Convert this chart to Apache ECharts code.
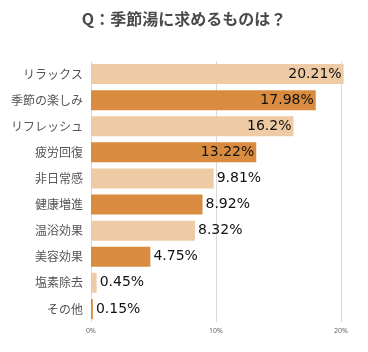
<!DOCTYPE html>
<html>
<head>
<meta charset="utf-8">
<script src="https://cdn.jsdelivr.net/npm/echarts@6/dist/echarts.min.js"></script>
<style>
html,body{margin:0;padding:0;background:#fff;}
#chart{width:368px;height:352px;}
</style>
</head>
<body>
<div id="chart"></div>
<script>
var categories = ['リラックス','季節の楽しみ','リフレッシュ','疲労回復','非日常感','健康増進','温浴効果','美容効果','塩素除去','その他'];
var values = [20.21, 17.98, 16.2, 13.22, 9.81, 8.92, 8.32, 4.75, 0.45, 0.15];
var xTicks = [0, 10, 20];
var lightColor = '#EECBA4';
var darkColor = '#D98C40';

var chart = echarts.init(document.getElementById('chart'));

// 大きい棒はラベルを内側、小さい棒は外側
var barData = [];
for (var i = 0; i < values.length; i++) {
	var inside = values[i] >= 13;
	barData.push({
		value: values[i],
		itemStyle: { color: i % 2 == 0 ? lightColor : darkColor },
		label: { position: inside ? 'insideRight' : 'right', distance: inside ? 2 : 3 }
	});
}

var option = {
	animation: false,
	title: {
		text: 'Q：季節湯に求めるものは？',
		left: 179,
		textAlign: 'center',
		top: 6,
		textStyle: {
			fontFamily: 'Noto Sans CJK JP',
			fontSize: 16,
			fontWeight: 'bold',
			color: '#4a4a4a'
		}
	},
	grid: {
		left: 91,
		right: 27,
		top: 61,
		height: 261
	},
	xAxis: {
		type: 'value',
		min: xTicks[0],
		max: xTicks[xTicks.length - 1],
		interval: 10,
		axisLine: { show: false },
		axisTick: { show: false },
		splitLine: { lineStyle: { color: '#d9d9d9' } },
		axisLabel: {
			fontSize: 7,
			color: '#666',
			margin: 5,
			fontFamily: 'Noto Sans',
			formatter: '{value}%'
		}
	},
	yAxis: {
		type: 'category',
		inverse: true,
		data: categories,
		axisLine: { show: false },
		axisTick: { show: false },
		axisLabel: {
			fontSize: 12,
			color: '#555',
			margin: 8,
			fontFamily: 'Noto Sans CJK JP'
		}
	},
	series: [{
		type: 'bar',
		clip: false,
		barWidth: 20,
		data: barData,
		label: {
			show: true,
			fontSize: 14,
			color: '#111',
			fontFamily: 'DejaVu Sans',
			formatter: '{c}%'
		}
	}]
};
chart.setOption(option);
</script>
</body>
</html>
